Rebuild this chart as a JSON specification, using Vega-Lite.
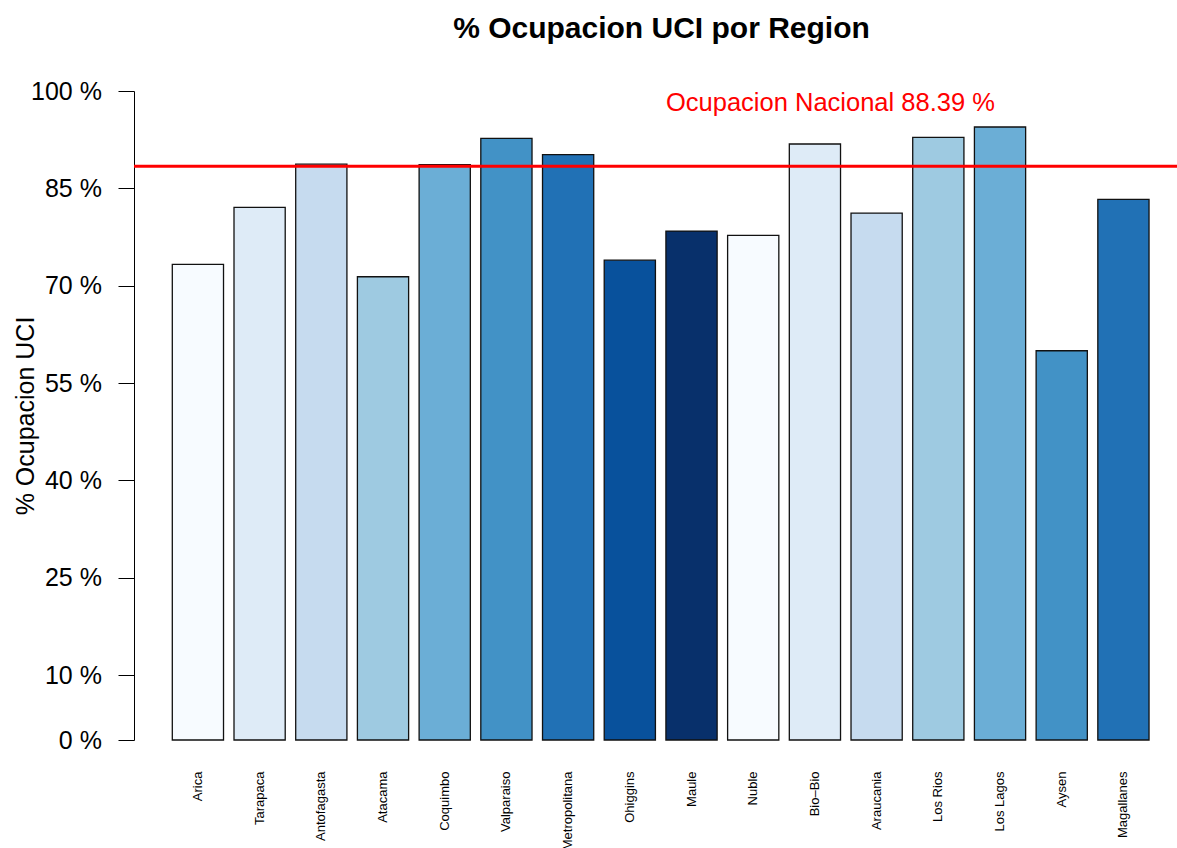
{
  "$schema": "https://vega.github.io/schema/vega-lite/v6.json",
  "width": 1043,
  "height": 649,
  "autosize": "none",
  "padding": {"left": 134, "top": 91, "right": 0, "bottom": 108},
  "background": "white",
  "config": {
    "view": {"stroke": null},
    "font": "Liberation Sans"
  },
  "title": {
    "text": "% Ocupacion UCI por Region",
    "font": "Liberation Sans",
    "fontSize": 30,
    "fontWeight": "bold",
    "color": "black",
    "anchor": "middle",
    "frame": "group",
    "baseline": "alphabetic",
    "offset": 11,
    "dx": 6
  },
  "datasets": {
    "regiones": [
      {"region": "Arica", "ocupacion": 73.28},
      {"region": "Tarapaca", "ocupacion": 82.07},
      {"region": "Antofagasta", "ocupacion": 88.74},
      {"region": "Atacama", "ocupacion": 71.38},
      {"region": "Coquimbo", "ocupacion": 88.65},
      {"region": "Valparaiso", "ocupacion": 92.71},
      {"region": "Metropolitana", "ocupacion": 90.19},
      {"region": "Ohiggins", "ocupacion": 73.94},
      {"region": "Maule", "ocupacion": 78.41},
      {"region": "Nuble", "ocupacion": 77.75},
      {"region": "Bio–Bio", "ocupacion": 91.83},
      {"region": "Araucania", "ocupacion": 81.19},
      {"region": "Los Rios", "ocupacion": 92.86},
      {"region": "Los Lagos", "ocupacion": 94.45},
      {"region": "Aysen", "ocupacion": 59.98},
      {"region": "Magallanes", "ocupacion": 83.30}
    ],
    "nacional": [
      {"valor": 88.39, "etiqueta": "Ocupacion Nacional 88.39 %"}
    ]
  },
  "layer": [
    {
      "data": {"name": "regiones"},
      "mark": {"type": "bar", "stroke": "#111111", "strokeWidth": 1.3},
      "encoding": {
        "x": {
          "field": "region",
          "type": "nominal",
          "sort": null,
          "scale": {"paddingInner": 0.17, "paddingOuter": 0.537, "align": 0.578},
          "axis": {
            "title": null,
            "domain": false,
            "ticks": false,
            "labelAngle": 270,
            "labelAlign": "right",
            "labelBaseline": "middle",
            "labelPadding": 31,
            "labelFontSize": 13,
            "labelFont": "Liberation Sans",
            "labelColor": "black",
            "labelOverlap": false
          }
        },
        "y": {
          "field": "ocupacion",
          "type": "quantitative",
          "scale": {"domain": [0, 100], "nice": false, "zero": true},
          "axis": {
            "values": [0, 10, 25, 40, 55, 70, 85, 100],
            "labelExpr": "datum.value + ' %'",
            "grid": false,
            "domainColor": "black",
            "domainWidth": 1,
            "tickColor": "black",
            "tickWidth": 1,
            "tickSize": 16,
            "labelPadding": 16.6,
            "labelFontSize": 25,
            "labelFont": "Liberation Sans",
            "labelColor": "black",
            "labelOverlap": false,
            "labelFlush": false,
            "title": "% Ocupacion UCI",
            "titleFont": "Liberation Sans",
            "titleFontSize": 25,
            "titleFontWeight": "normal",
            "titleColor": "black",
            "titlePadding": -8
          }
        },
        "color": {
          "field": "region",
          "type": "nominal",
          "legend": null,
          "scale": {
            "domain": ["Arica", "Tarapaca", "Antofagasta", "Atacama", "Coquimbo", "Valparaiso", "Metropolitana", "Ohiggins", "Maule", "Nuble", "Bio–Bio", "Araucania", "Los Rios", "Los Lagos", "Aysen", "Magallanes"],
            "range": ["#F7FBFF", "#DEEBF7", "#C6DBEF", "#9ECAE1", "#6BAED6", "#4292C6", "#2171B5", "#08519C", "#08306B", "#F7FBFF", "#DEEBF7", "#C6DBEF", "#9ECAE1", "#6BAED6", "#4292C6", "#2171B5"]
          }
        }
      }
    },
    {
      "data": {"name": "nacional"},
      "mark": {"type": "rule", "color": "#FF0000", "strokeWidth": 3},
      "encoding": {"y": {"field": "valor", "type": "quantitative"}}
    },
    {
      "data": {"name": "nacional"},
      "mark": {
        "type": "text",
        "color": "#FF0000",
        "font": "Liberation Sans",
        "fontSize": 25.5,
        "align": "center",
        "baseline": "alphabetic",
        "dx": 15.5
      },
      "encoding": {
        "x": {"datum": "Bio–Bio"},
        "y": {"datum": 96.9, "type": "quantitative"},
        "text": {"field": "etiqueta"}
      }
    }
  ]
}
